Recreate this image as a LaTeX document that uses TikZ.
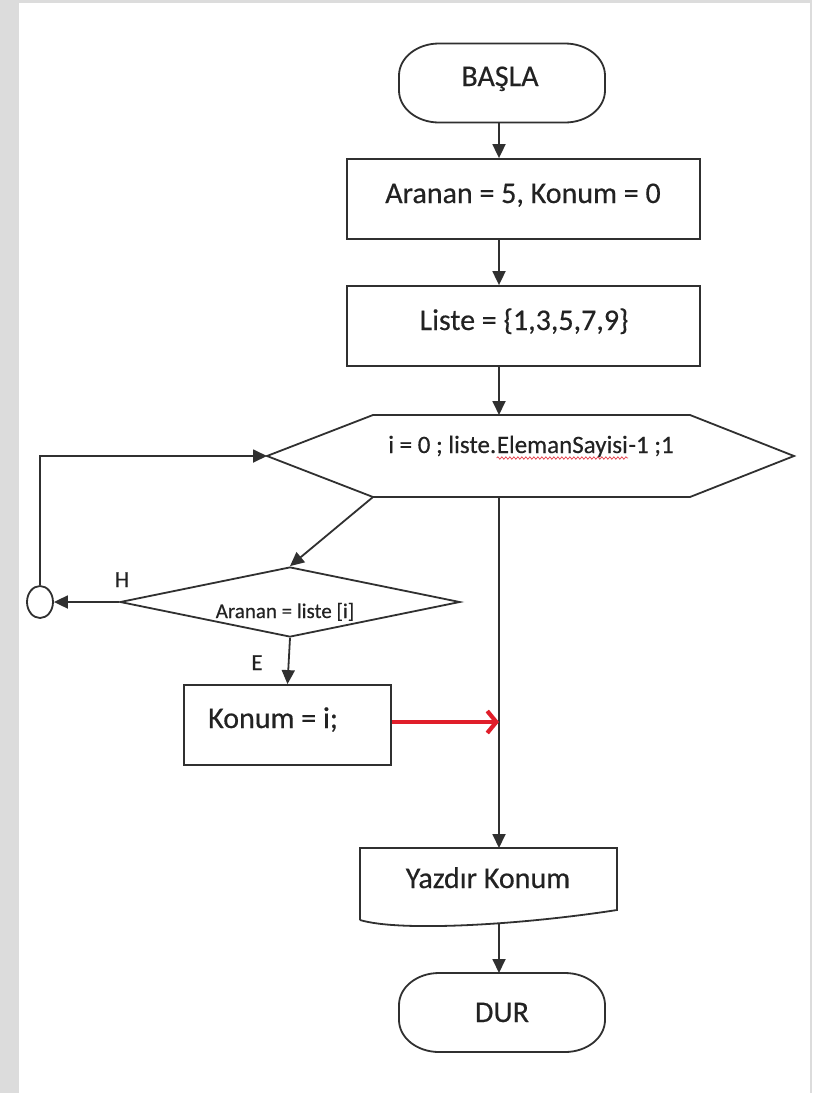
\documentclass[tikz,border=0pt]{standalone}
\usepackage{fontspec}
\setmainfont{Carlito}[FakeBold=0.4]
\usetikzlibrary{arrows.meta,shapes.geometric,decorations.pathmorphing}
\definecolor{framegray}{HTML}{DCDCDC}
\definecolor{ink}{HTML}{222222}
\definecolor{wire}{HTML}{303030}
\definecolor{alertred}{HTML}{E01E2A}
% outline of a start/stop terminal drawn around an (invisible) node
\newcommand\terminaloutline[1]{%
  \draw[line] ([yshift=-32pt]#1.north west)
    arc[start angle=180,end angle=90,x radius=40pt,y radius=32pt]
    -- ([xshift=-40pt]#1.north east)
    arc[start angle=90,end angle=0,x radius=40pt,y radius=32pt]
    -- ([yshift=32pt]#1.south east)
    arc[start angle=0,end angle=-90,x radius=40pt,y radius=32pt]
    -- ([xshift=40pt]#1.south west)
    arc[start angle=-90,end angle=-180,x radius=40pt,y radius=32pt]
    -- cycle;}
\begin{document}
\begin{tikzpicture}[x=1pt,y=-1pt,
  line/.style={draw=wire,line width=1.8pt},
  flow/.style={draw=wire,line width=1.8pt,-{Triangle[length=14pt,width=13pt]}},
  jump/.style={draw=alertred,line width=4.2pt,-{Straight Barb[length=9pt,width=22pt]}},
  terminal/.style={minimum width=206pt,minimum height=79pt,inner sep=0pt,outer sep=0pt},
  process/.style={line,minimum width=353pt,minimum height=80pt,inner sep=0pt},
  big/.style={inner sep=0pt,text=ink,font=\fontsize{30}{36}\selectfont,anchor=base},
  mid/.style={inner sep=0pt,text=ink,font=\fontsize{25}{30}\selectfont,anchor=base},
  small/.style={inner sep=0pt,text=ink,font=\fontsize{21}{25}\selectfont,anchor=base},
  tag/.style={inner sep=0pt,text=ink,font=\fontsize{23}{27}\selectfont,anchor=base},
  squiggle/.style={draw=alertred!85,line width=0.7pt,decorate,
    decoration={snake,amplitude=1.2pt,segment length=4pt}}]

% page frame
\fill[framegray] (0,0) rectangle (812,1093);
\fill[white] (19,3) rectangle (810,1093);
\useasboundingbox (0,0) rectangle (812,1093);

% x position of the main vertical flow
\coordinate (spine) at (499,0);

% start / end terminals
\node[terminal] (start) at (502,83) {};
\terminaloutline{start}
\node[big] (startlbl) at (500,86) {BAŞLA};
\node[terminal] (stop) at (502,1012.5) {};
\terminaloutline{stop}
\node[big] (stoplbl) at (502,1022) {DUR};

% assignments
\node[process] (init) at (523.5,199) {};
\node[big] (initlbl) at (523,203) {Aranan = 5, Konum = 0};
\node[process] (list) at (523.5,326) {};
\node[big] (listlbl) at (524,330) {Liste = \{1,3,5,7,9\}};

% loop header (hexagon)
\coordinate (hW) at (267,456);
\coordinate (hNW) at (373,415);
\coordinate (hNE) at (690,415);
\coordinate (hE) at (794,456);
\coordinate (hSE) at (690,497);
\coordinate (hSW) at (373,497);
\draw[line] (hW) -- (hNW) -- (hNE) -- (hE) -- (hSE) -- (hSW) -- cycle;
\node[mid] (looplbl) at (531,453) {i = 0 ; liste.\tikz[baseline=(w.base)]{\node[inner sep=0pt,anchor=base west] (w) at (0,0) {ElemanSayisi};
  \draw[squiggle] ([yshift=-5pt]w.base west) -- ([yshift=-5pt]w.base east);}-1 ;1};

% comparison
\node[diamond,line,minimum width=340pt,minimum height=70pt,inner sep=0pt,aspect=4.86] (test) at (290,602) {};
\node[small] (testlbl) at (285,618) {Aranan = liste [i]};
\node[tag] (nolbl) at (122,587) {H};
\node[tag] (yeslbl) at (257,670) {E};

% connector circle of the loop
\node[ellipse,line,minimum width=26pt,minimum height=32pt,inner sep=0pt] (conn) at (40,602) {};

% found: store position
\node[line,minimum width=207pt,minimum height=80pt,inner sep=0pt] (found) at (287.5,725) {};
\node[big,anchor=base west] (foundlbl) at (208,728) {Konum = i;};

% output (document shape)
\coordinate (dNW) at (360,848);
\coordinate (dNE) at (617,848);
\coordinate (dSE) at (617,910);
\coordinate (dSW) at (360,920);
\draw[line] (dSW) -- (dNW) -- (dNE) -- (dSE)
  .. controls (520,925) and (400,932) .. (dSW);
\coordinate (dOut) at (499,923);
\node[big] (outlbl) at (488,888) {Yazdır Konum};

% connectors
\draw[flow] (start.south -| spine) -- (init.north -| spine);
\draw[flow] (init.south -| spine) -- (list.north -| spine);
\draw[flow] (list.south -| spine) -- (hNW -| spine);
\draw[flow] (hSW) -- (test.north);
\draw[flow] (test.west) -- (conn.east);
\draw[flow] (conn.north) |- (hW);
\draw[flow] (test.south) -- (found.north);
\draw[flow] (hSW -| spine) -- (dNW -| spine);
\draw[flow] (dOut) -- (stop.north -| spine);
\coordinate (jumpfrom) at ([yshift=3pt]found.east);
\draw[jump] (jumpfrom) -- (jumpfrom -| spine);
\end{tikzpicture}
\end{document}
